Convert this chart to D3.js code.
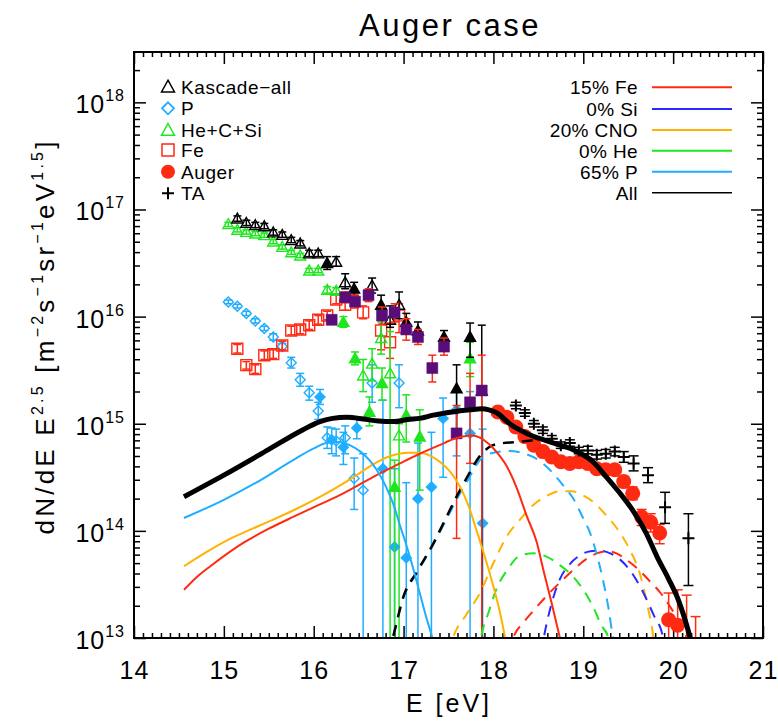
<!DOCTYPE html>
<html>
<head>
<meta charset="utf-8">
<script src="https://cdn.jsdelivr.net/npm/d3@7"></script>
<style>
  body { margin: 0; background: #fff; }
  svg text { font-family: "Liberation Sans", Arial, sans-serif; fill: #000; }
</style>
</head>
<body>
<svg id="chart" width="778" height="721"></svg>
<script>
// Energies are log10(E/eV); fluxes are log10 of dN/dE E^2.5.
// Point rows: [logE, logF, logF_low, logF_high]

// KASCADE (open symbols)
const kascadeAll = [
  [15.15,16.915,16.89,16.94],[15.25,16.874,16.85,16.90],[15.35,16.853,16.83,16.88],
  [15.45,16.843,16.82,16.87],[15.55,16.785,16.76,16.81],[15.65,16.762,16.74,16.79],
  [15.75,16.713,16.69,16.74],[15.85,16.682,16.66,16.71],[15.95,16.589,16.56,16.62],
  [16.05,16.589,16.56,16.62],[16.25,16.51,16.47,16.56],[16.35,16.32,16.26,16.40],
  [16.65,16.29,16.22,16.36],[16.85,15.97,15.90,16.10],[16.95,16.11,15.98,16.23]
];
const kascadeP = [
  [15.05,16.137,16.12,16.155],[15.15,16.097,16.08,16.115],[15.25,16.03,16.01,16.05],
  [15.35,15.96,15.94,15.98],[15.45,15.89,15.87,15.91],[15.55,15.81,15.78,15.84],
  [15.65,15.72,15.69,15.75],[15.75,15.57,15.52,15.62],[15.85,15.41,15.35,15.47],
  [15.95,15.29,15.22,15.35],[16.05,15.12,15.04,15.20],[16.15,14.87,14.77,14.97],
  [16.25,14.84,14.70,14.95],[16.35,14.87,14.72,14.98],[16.45,14.49,14.20,14.68],
  [16.55,14.38,12.0,14.72],[16.65,15.38,15.20,15.55],[16.95,15.38,15.15,15.55]
];
const kascadeHeCSi = [
  [15.05,16.862,16.84,16.88],[15.15,16.81,16.79,16.83],[15.25,16.79,16.77,16.81],
  [15.35,16.775,16.755,16.795],[15.45,16.76,16.74,16.78],[15.55,16.70,16.68,16.72],
  [15.65,16.65,16.63,16.67],[15.75,16.60,16.58,16.62],[15.85,16.57,16.55,16.59],
  [15.95,16.43,16.41,16.45],[16.05,16.43,16.41,16.45],[16.15,16.25,16.22,16.28],
  [16.25,16.24,16.21,16.27],[16.55,15.45,15.30,15.60],[16.65,15.56,15.40,15.70],
  [16.75,15.80,15.65,15.95],[16.85,15.47,12.0,15.86],[16.95,14.89,12.0,15.0]
];
const kascadeFe = [
  [15.15,15.70,15.66,15.74],[15.25,15.547,15.51,15.58],[15.35,15.51,15.47,15.55],
  [15.45,15.64,15.60,15.68],[15.55,15.65,15.61,15.69],[15.65,15.73,15.69,15.77],
  [15.75,15.87,15.83,15.91],[15.85,15.88,15.84,15.92],[15.95,15.92,15.88,15.96],
  [16.05,15.97,15.93,16.01],[16.15,16.01,15.97,16.05],[16.25,16.16,16.12,16.20],
  [16.35,16.11,16.06,16.16],[16.55,16.04,15.98,16.10],[16.75,15.87,15.69,16.03],
  [16.85,15.76,15.61,15.94],[16.95,16.01,15.85,16.12]
];

// KASCADE-Grande (filled symbols)
const grandeAll = [
  [16.15,16.50,16.44,16.56],[16.45,16.26,16.20,16.32],[16.75,16.11,16.03,16.20],
  [17.03,15.95,15.88,16.03],[17.16,15.87,15.80,15.95],[17.45,15.81,15.75,15.87],
  [17.59,15.33,14.88,15.55],[17.74,15.81,15.62,15.94],[17.87,15.31,12.0,15.92]
];
const grandeP = [
  [16.07,15.25,15.18,15.32],[16.20,14.85,14.72,14.96],[16.33,14.78,14.62,14.92],
  [16.48,14.96,14.86,15.05],[16.77,14.58,12.0,15.22],[16.90,13.85,12.0,14.58],
  [17.03,13.75,12.0,14.45],[17.16,14.30,12.0,14.82],[17.31,14.41,12.0,14.92],
  [17.44,15.05,14.50,15.24],[17.59,15.13,14.70,15.30],[17.74,14.91,12.0,15.30],
  [17.88,14.07,12.0,14.95]
];
const grandeHeCSi = [
  [16.33,15.95,15.90,16.00],[16.46,15.61,15.55,15.67],[16.62,15.11,14.98,15.25],
  [16.76,15.38,15.22,15.52],[16.90,14.41,12.0,14.66],[17.03,15.08,14.83,15.27],
  [17.18,14.88,14.38,15.13],[17.74,15.61,15.44,15.76]
];
const grandeFe = [
  [16.20,15.97,15.93,16.01],[16.35,16.18,16.13,16.23],[16.46,16.14,16.08,16.20],
  [16.61,16.20,16.14,16.26],[16.76,16.01,15.93,16.09],[16.90,16.04,15.95,16.12],
  [17.03,15.88,15.78,15.98],[17.16,15.81,15.74,15.88],[17.32,15.52,15.39,15.64],
  [17.45,15.72,15.64,15.80],[17.59,14.91,13.93,15.17],[17.74,15.20,14.63,15.47],
  [17.87,15.31,12.0,15.64]
];

// Pierre Auger Observatory
const auger = [
  [18.05,15.11,15.10,15.12],[18.15,15.06,15.05,15.07],[18.25,14.97,14.96,14.98],
  [18.35,14.88,14.87,14.89],[18.45,14.80,14.79,14.81],[18.55,14.74,14.73,14.75],
  [18.65,14.69,14.68,14.70],[18.75,14.645,14.63,14.66],[18.85,14.63,14.61,14.65],
  [18.95,14.645,14.62,14.67],[19.05,14.63,14.60,14.66],[19.15,14.58,14.55,14.61],
  [19.25,14.57,14.54,14.60],[19.35,14.57,14.53,14.61],[19.45,14.46,14.41,14.51],
  [19.55,14.35,14.29,14.41],[19.65,14.13,14.05,14.20],[19.75,14.08,13.99,14.16],
  [19.85,13.98,13.88,14.06],[19.95,13.17,12.0,13.42],[20.05,13.12,12.0,13.45],
  [20.15,12.50,12.0,13.40],[20.25,12.50,12.0,13.20]
];
// Telescope Array
const ta = [
  [18.25,15.17,15.14,15.20],[18.35,15.10,15.07,15.13],[18.45,15.00,14.97,15.03],
  [18.55,14.94,14.91,14.97],[18.65,14.86,14.83,14.89],[18.75,14.80,14.77,14.83],
  [18.85,14.82,14.79,14.85],[18.95,14.75,14.72,14.78],[19.05,14.75,14.72,14.79],
  [19.15,14.71,14.67,14.75],[19.25,14.72,14.68,14.76],[19.35,14.74,14.70,14.78],
  [19.45,14.69,14.64,14.74],[19.56,14.63,14.56,14.70],[19.72,14.52,14.45,14.59],
  [19.91,14.22,14.07,14.36],[20.17,13.93,13.49,14.16]
];

// Model curves: [logE, logF]
// Galactic component (solid)
const galP = [
  [14.556,14.12],[15.0,14.29],[15.40,14.47],[15.77,14.66],[16.0,14.77],[16.14,14.82],
  [16.29,14.83],[16.40,14.80],[16.52,14.74],[16.62,14.66],[16.70,14.57],[16.80,14.42],
  [16.89,14.24],[16.96,14.05],[17.03,13.87],[17.10,13.67],[17.18,13.42],[17.25,13.2],
  [17.32,13.0],[17.36,12.85]
];
const galCNO = [
  [14.556,13.67],[14.8,13.80],[15.03,13.91],[15.4,14.05],[15.77,14.19],[16.14,14.35],
  [16.44,14.50],[16.70,14.64],[16.90,14.71],[17.05,14.73],[17.18,14.73],[17.30,14.70],
  [17.41,14.64],[17.52,14.55],[17.63,14.41],[17.72,14.24],[17.81,14.01],[17.90,13.77],
  [18.0,13.48],[18.07,13.25],[18.13,13.0],[18.16,12.85]
];
const galFe = [
  [14.556,13.45],[14.70,13.57],[14.85,13.67],[15.22,13.89],[15.5,14.02],[15.77,14.13],
  [16.05,14.24],[16.33,14.35],[16.70,14.52],[16.96,14.63],[17.18,14.72],[17.40,14.80],
  [17.55,14.855],[17.66,14.88],[17.76,14.89],[17.85,14.87],[17.95,14.81],[18.05,14.72],
  [18.15,14.60],[18.26,14.40],[18.37,14.14],[18.48,13.90],[18.56,13.62],[18.65,13.32],
  [18.74,13.0],[18.78,12.85]
];
// Extragalactic component (dashed)
const exgP = [
  [16.83,12.85],[16.88,13.0],[17.0,13.38],[17.15,13.61],[17.33,13.87],[17.46,14.08],
  [17.59,14.29],[17.72,14.48],[17.85,14.66],[18.0,14.73],[18.18,14.745],[18.35,14.72],
  [18.52,14.65],[18.65,14.55],[18.78,14.42],[18.89,14.30],[18.98,14.15],[19.08,13.97],
  [19.15,13.78],[19.22,13.54],[19.28,13.28],[19.33,13.0],[19.36,12.85]
];
const exgHe = [
  [17.83,12.85],[17.86,13.0],[17.95,13.25],[18.04,13.47],[18.15,13.63],[18.30,13.77],
  [18.45,13.79],[18.59,13.76],[18.74,13.68],[18.89,13.57],[19.0,13.45],[19.11,13.29],
  [19.20,13.12],[19.28,13.0],[19.31,12.85]
];
const exgCNO = [
  [17.50,12.85],[17.55,13.0],[17.70,13.22],[17.85,13.42],[18.0,13.70],[18.15,13.95],
  [18.30,14.11],[18.44,14.24],[18.60,14.33],[18.74,14.37],[18.87,14.37],[19.0,14.33],
  [19.11,14.27],[19.25,14.15],[19.41,13.98],[19.52,13.82],[19.63,13.60],[19.71,13.32],
  [19.78,13.0],[19.80,12.85]
];
const exgSi = [
  [18.53,12.85],[18.56,13.0],[18.65,13.33],[18.74,13.55],[18.85,13.69],[18.96,13.77],
  [19.08,13.81],[19.18,13.815],[19.30,13.79],[19.45,13.70],[19.57,13.57],[19.67,13.42],
  [19.78,13.22],[19.89,13.0],[19.92,12.85]
];
const exgFe = [
  [18.18,12.85],[18.22,13.0],[18.33,13.14],[18.44,13.25],[18.60,13.40],[18.78,13.55],
  [18.92,13.66],[19.04,13.74],[19.15,13.79],[19.26,13.81],[19.37,13.79],[19.48,13.73],
  [19.60,13.65],[19.74,13.53],[19.86,13.42],[19.96,13.30],[20.06,13.16],[20.15,13.0],
  [20.18,12.9]
];
const exgAll = [
  [16.83,12.85],[16.88,13.0],[17.0,13.39],[17.15,13.62],[17.33,13.88],[17.46,14.10],
  [17.59,14.32],[17.72,14.52],[17.85,14.70],[17.95,14.78],[18.04,14.81],[18.26,14.83],
  [18.52,14.85],[18.63,14.83],[18.93,14.74],[19.1,14.65],[19.26,14.50],[19.40,14.36],
  [19.56,14.18],[19.70,13.98],[19.82,13.76],[19.95,13.55],[20.06,13.35],[20.19,13.0]
];
// Sum of all components (thick solid)
const totalAll = [
  [14.556,14.318],[15.0,14.52],[15.5,14.76],[15.85,14.93],[16.07,15.02],[16.21,15.05],
  [16.37,15.06],[16.55,15.045],[16.72,15.025],[16.89,15.02],[17.05,15.04],[17.18,15.05],
  [17.33,15.08],[17.54,15.11],[17.74,15.13],[17.87,15.14],[17.95,15.13],[18.04,15.10],
  [18.18,15.0],[18.37,14.91],[18.63,14.83],[18.93,14.74],[19.1,14.65],[19.26,14.50],
  [19.40,14.36],[19.56,14.18],[19.70,13.98],[19.82,13.76],[19.95,13.55],[20.06,13.35],
  [20.19,13.0],[20.22,12.9]
];

// Legend texts
const markerLegend = ["Kascade\u2212all", "P", "He+C+Si", "Fe", "Auger", "TA"];
const lineLegend = ["15% Fe", "0% Si", "20% CNO", "0% He", "65% P", "All"];

// Tick values
const xMajor = [14, 15, 16, 17, 18, 19, 20, 21];
const yDecades = [13, 14, 15, 16, 17, 18];

// ---------------------------------------------------------------
const C = {
  red: "#ff2a12", si: "#2a2aff", orange: "#ffb300", green: "#1fe61f",
  blue: "#1faeff", purple: "#5a0d78", black: "#000"
};

const svg = d3.select("#chart");
const L = 134, R = 763, T = 52, B = 638;
const x = d3.scaleLinear().domain([14, 21]).range([L, R]);
const y = d3.scaleLog().domain([1e13, Math.pow(10, 18.47)]).range([B, T]);
const Y = v => y(Math.pow(10, v));

svg.append("defs").append("clipPath").attr("id", "plotClip")
  .append("rect").attr("x", L).attr("y", T).attr("width", R - L).attr("height", B - T);

// Title
svg.append("text").attr("x", 450).attr("y", 36).attr("text-anchor", "middle")
  .style("font-size", "31px").style("letter-spacing", "2.5px").text("Auger case");

// ---- axes ----
const xMinor = d3.range(140, 210).map(d => d / 10).filter(d => d % 1 !== 0);
const yMinor = [];
yDecades.forEach(n => { for (let k = 2; k <= 9; k++) { const v = k * Math.pow(10, n); if (v < y.domain()[1]) yMinor.push(v); } });
const yMajorVals = yDecades.map(n => Math.pow(10, n));

function styleAxis(g) {
  g.select(".domain").remove();
  g.selectAll(".tick line").attr("stroke", "#000").attr("stroke-width", 1.5);
}
svg.append("g").attr("transform", `translate(0,${B})`)
  .call(d3.axisBottom(x).tickValues(xMajor).tickSizeInner(-12).tickSizeOuter(0).tickPadding(23).tickFormat(d3.format("d")))
  .call(styleAxis)
  .call(g => g.selectAll("text").style("font-size", "25px").style("letter-spacing", "1px").attr("fill", "#000"));
svg.append("g").attr("transform", `translate(0,${B})`)
  .call(d3.axisBottom(x).tickValues(xMinor).tickSizeInner(-5).tickSizeOuter(0).tickFormat(""))
  .call(styleAxis);
svg.append("g").attr("transform", `translate(0,${T})`)
  .call(d3.axisTop(x).tickValues(xMajor).tickSizeInner(-12).tickSizeOuter(0).tickFormat(""))
  .call(styleAxis);
svg.append("g").attr("transform", `translate(0,${T})`)
  .call(d3.axisTop(x).tickValues(xMinor).tickSizeInner(-5).tickSizeOuter(0).tickFormat(""))
  .call(styleAxis);
svg.append("g").attr("transform", `translate(${L},0)`)
  .call(d3.axisLeft(y).tickValues(yMajorVals).tickSizeInner(-12).tickSizeOuter(0).tickFormat(""))
  .call(styleAxis);
svg.append("g").attr("transform", `translate(${L},0)`)
  .call(d3.axisLeft(y).tickValues(yMinor).tickSizeInner(-6).tickSizeOuter(0).tickFormat(""))
  .call(styleAxis);
svg.append("g").attr("transform", `translate(${R},0)`)
  .call(d3.axisRight(y).tickValues(yMajorVals).tickSizeInner(-12).tickSizeOuter(0).tickFormat(""))
  .call(styleAxis);
svg.append("g").attr("transform", `translate(${R},0)`)
  .call(d3.axisRight(y).tickValues(yMinor).tickSizeInner(-6).tickSizeOuter(0).tickFormat(""))
  .call(styleAxis);

// y tick labels 10^n
yDecades.forEach(n => {
  const t = svg.append("text").attr("x", 125).attr("y", y(Math.pow(10, n)) + 11)
    .attr("text-anchor", "end").style("font-size", "25px").style("letter-spacing", "1px");
  t.append("tspan").text("10");
  t.append("tspan").attr("dy", -12).style("font-size", "16px").text(String(n));
});

// Axis titles
svg.append("text").attr("x", 449).attr("y", 712).attr("text-anchor", "middle")
  .style("font-size", "25px").style("letter-spacing", "3px").text("E [eV]");
const yl = svg.append("text").attr("transform", "translate(54,338) rotate(-90)")
  .attr("text-anchor", "middle").style("font-size", "26px")
  .attr("textLength", 393).attr("lengthAdjust", "spacing");
yl.append("tspan").text("dN/dE  E");
yl.append("tspan").attr("dy", -11).style("font-size", "16px").text("2.5");
yl.append("tspan").attr("dy", 11).text(" [m");
yl.append("tspan").attr("dy", -11).style("font-size", "16px").text("\u22122");
yl.append("tspan").attr("dy", 11).text("s");
yl.append("tspan").attr("dy", -11).style("font-size", "16px").text("\u22121");
yl.append("tspan").attr("dy", 11).text("sr");
yl.append("tspan").attr("dy", -11).style("font-size", "16px").text("\u22121");
yl.append("tspan").attr("dy", 11).text("eV");
yl.append("tspan").attr("dy", -11).style("font-size", "16px").text("1.5");
yl.append("tspan").attr("dy", 11).text("]");

// ---- marker shapes ----
const shapes = {
  tri: s => `M0,${-s}L${s},${s * 0.8}L${-s},${s * 0.8}Z`,
  dia: s => `M0,${-s}L${s},0L0,${s}L${-s},0Z`,
  sq: s => `M${-s},${-s}H${s}V${s}H${-s}Z`
};

const plot = svg.append("g").attr("clip-path", "url(#plotClip)");

function errorBars(data, color, cap = 4, w = 1.5) {
  const g = plot.append("g").attr("stroke", color).attr("stroke-width", w).attr("fill", "none");
  data.forEach(d => {
    const px = x(d[0]);
    const y1 = Y(d[2]), y2 = Y(d[3]);
    g.append("line").attr("x1", px).attr("x2", px).attr("y1", y1).attr("y2", y2);
    g.append("line").attr("x1", px - cap).attr("x2", px + cap).attr("y1", y1).attr("y2", y1);
    g.append("line").attr("x1", px - cap).attr("x2", px + cap).attr("y1", y2).attr("y2", y2);
  });
}
function markers(data, shape, size, stroke, fill, sw = 1.4) {
  plot.append("g").selectAll("path").data(data).join("path")
    .attr("transform", d => `translate(${x(d[0])},${Y(d[1])})`)
    .attr("d", shapes[shape](size))
    .attr("stroke", stroke).attr("stroke-width", sw).attr("fill", fill);
}

// KASCADE
errorBars(kascadeP, C.blue);
markers(kascadeP, "dia", 5, C.blue, "none");
errorBars(kascadeFe, C.red);
markers(kascadeFe, "sq", 5.5, C.red, "none");
errorBars(kascadeHeCSi, C.green);
markers(kascadeHeCSi, "tri", 5.5, C.green, "none");
errorBars(kascadeAll, C.black);
markers(kascadeAll, "tri", 5.5, C.black, "none");
// KASCADE-Grande
errorBars(grandeP, C.blue);
markers(grandeP, "dia", 5, C.blue, C.blue);
errorBars(grandeHeCSi, C.green);
markers(grandeHeCSi, "tri", 5.5, C.green, C.green);
errorBars(grandeAll, C.black);
markers(grandeAll, "tri", 5.5, C.black, C.black);
errorBars(grandeFe, C.red);
markers(grandeFe, "sq", 5.5, C.purple, C.purple, 0.5);
// Auger
errorBars(auger, C.red, 5, 1.5);
plot.append("g").selectAll("circle").data(auger).join("circle")
  .attr("cx", d => x(d[0])).attr("cy", d => Y(d[1])).attr("r", 7.5).attr("fill", C.red);
// TA
errorBars(ta, C.black, 5, 1.5);
plot.append("g").selectAll("path").data(ta).join("path")
  .attr("transform", d => `translate(${x(d[0])},${Y(d[1])})`)
  .attr("d", "M-6,0H6M0,-6V6").attr("stroke", C.black).attr("stroke-width", 2);

// ---- model curves ----
const line = d3.line().x(d => x(d[0])).y(d => Y(d[1])).curve(d3.curveMonotoneX);
function curve(data, color, w, dash) {
  plot.append("path").datum(data).attr("d", line).attr("fill", "none")
    .attr("stroke", color).attr("stroke-width", w)
    .attr("stroke-dasharray", dash || null);
}
const dash = "11,8";
curve(exgHe, C.green, 2, dash);
curve(exgCNO, C.orange, 2, dash);
curve(exgSi, C.si, 2, dash);
curve(exgFe, C.red, 2, dash);
curve(exgP, C.blue, 2, dash);
curve(exgAll, C.black, 2.5, dash);
curve(galCNO, C.orange, 2);
curve(galFe, C.red, 2);
curve(galP, C.blue, 2);
curve(totalAll, C.black, 5);

// Frame
svg.append("rect").attr("x", L).attr("y", T).attr("width", R - L).attr("height", B - T)
  .attr("fill", "none").attr("stroke", "#000").attr("stroke-width", 2);

// ---- legends ----
const legRowsL = [86.7, 108.3, 130, 150, 171.7, 193.3];
const legMark = [
  g => g.append("path").attr("d", shapes.tri(6.5)).attr("stroke", C.black).attr("fill", "none").attr("stroke-width", 1.5),
  g => g.append("path").attr("d", shapes.dia(6)).attr("stroke", C.blue).attr("fill", "none").attr("stroke-width", 1.8),
  g => g.append("path").attr("d", shapes.tri(6.5)).attr("stroke", C.green).attr("fill", "none").attr("stroke-width", 1.5),
  g => g.append("path").attr("d", shapes.sq(6)).attr("stroke", C.red).attr("fill", "none").attr("stroke-width", 1.5),
  g => g.append("circle").attr("r", 7).attr("fill", C.red),
  g => g.append("path").attr("d", "M-6,0H6M0,-6V6").attr("stroke", C.black).attr("stroke-width", 2)
];
markerLegend.forEach((t, i) => {
  const g = svg.append("g").attr("transform", `translate(168,${legRowsL[i]})`);
  legMark[i](g);
  svg.append("text").attr("x", 181).attr("y", legRowsL[i] + 7)
    .style("font-size", "19px").style("letter-spacing", "0.6px").text(t);
});

const legRowsR = [87.3, 109, 130, 150.7, 171.7, 192.7];
const lineColors = [C.red, C.si, C.orange, C.green, C.blue, C.black];
lineLegend.forEach((t, i) => {
  svg.append("text").attr("x", 638).attr("y", legRowsR[i] + 7).attr("text-anchor", "end")
    .style("font-size", "19px").style("letter-spacing", "0.4px").text(t);
  svg.append("line").attr("x1", 652).attr("x2", 732).attr("y1", legRowsR[i]).attr("y2", legRowsR[i])
    .attr("stroke", lineColors[i]).attr("stroke-width", i === 5 ? 1.5 : 2);
});
</script>
</body>
</html>
